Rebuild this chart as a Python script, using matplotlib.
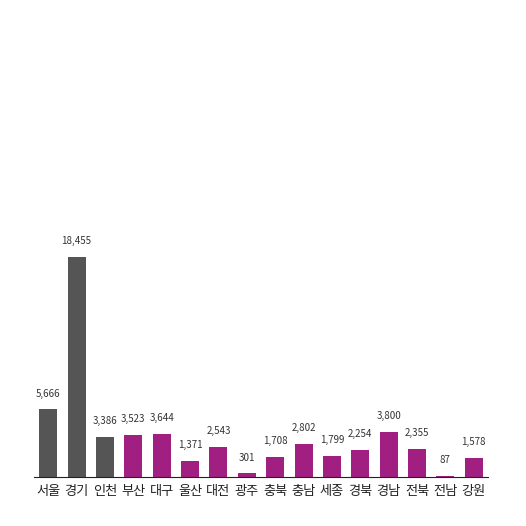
import matplotlib
matplotlib.use('Agg')
from matplotlib import pyplot as plt

regions = ['서울', '경기', '인천', '부산', '대구', '울산', '대전', '광주', '충북',
           '충남', '세종', '경북', '경남', '전북', '전남', '강원']
values = [5666, 18455, 3386, 3523, 3644, 1371, 2543, 301, 1708,
          2802, 1799, 2254, 3800, 2355, 87, 1578]
capital = ['서울', '경기', '인천']

plt.rcParams['font.family'] = ['Noto Sans CJK KR', 'DejaVu Sans']

fig = plt.figure(figsize=(5.26, 5.26), dpi=100)
ax = fig.add_axes([34 / 526, 49 / 526, 454 / 526, 447 / 526])

colors = ['#555555' if r in capital else '#a01f80' for r in regions]
x = range(len(regions))
ax.bar(x, values, width=0.63, color=colors)

for i, v in enumerate(values):
    ax.text(i, v + 900, f'{v:,}', ha='center', va='bottom', fontsize=7,
            color='#333333')

ax.set_xlim(-0.5, len(regions) - 0.5)
ax.set_ylim(0, 37500)
ax.set_xticks(list(x))
ax.set_xticklabels(regions, fontsize=9.5, color='#222222')
ax.tick_params(axis='x', length=0, pad=6)
ax.set_yticks([])
for side in ['top', 'left', 'right']:
    ax.spines[side].set_visible(False)
ax.spines['bottom'].set_color('#222222')

plt.savefig('out.png', dpi=100)
